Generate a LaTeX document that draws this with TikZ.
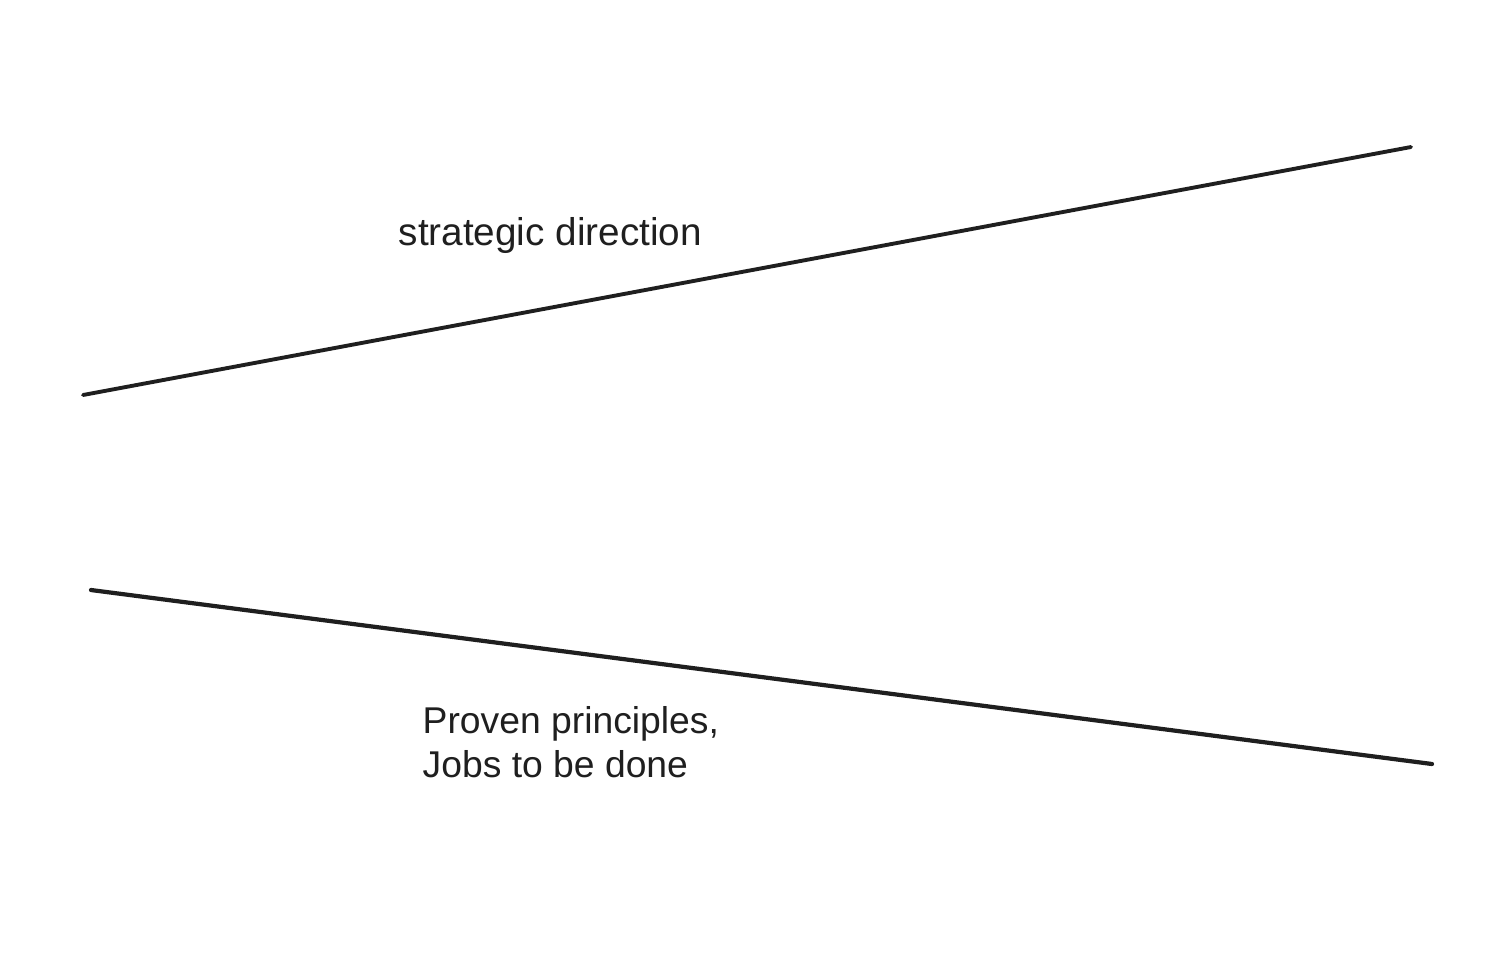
\documentclass[tikz,border=0pt]{standalone}
\usepackage{fontspec}
\setmainfont{Liberation Sans}
\usepackage{xcolor}
\definecolor{ink}{rgb}{0.12, 0.12, 0.12}

\begin{document}
\begin{tikzpicture}[x=0.01cm, y=-0.01cm, font=\fontsize{11}{12.5}\selectfont]
			\useasboundingbox (0,0) rectangle (1488,978);
			% End points of the two edges
			\coordinate (topL) at (83,395);
			\coordinate (topR) at (1411,147);
			\coordinate (botL) at (91,590);
			\coordinate (botR) at (1432,764);

			% Upper edge
			\draw[ink, line width=1.1pt, line cap=round] (topL) -- (topR);
			% Lower edge
			\draw[ink, line width=1.2pt, line cap=round] (botL) -- (botR);

			% Labels
			\node[ink, anchor=base west, inner sep=0pt] (strategy) at (398,245) {strategic direction};
			\node[ink, anchor=base west, inner sep=0pt, align=left, font=\fontsize{10.6}{12.5}\selectfont] (principles) at (422,777) {Proven principles,\\Jobs to be done};
		\end{tikzpicture}
\end{document}
